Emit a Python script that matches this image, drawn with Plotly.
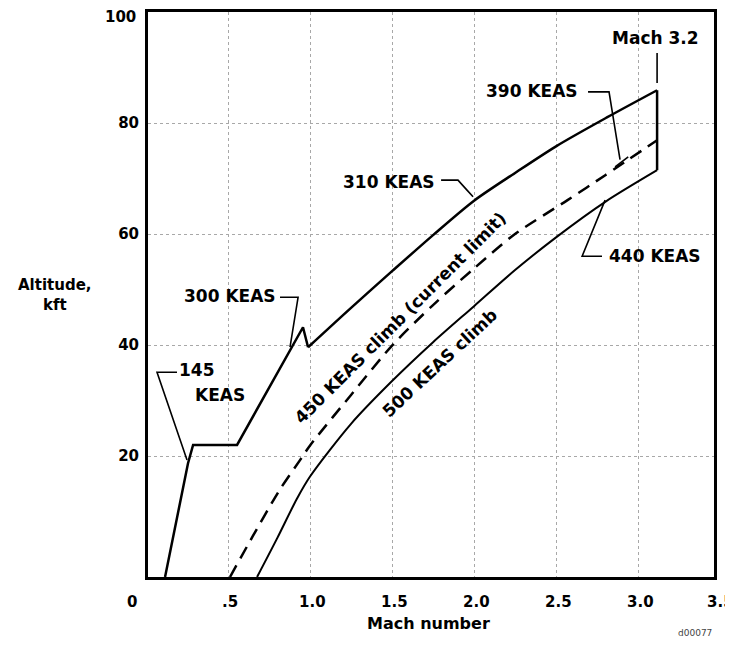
import plotly.graph_objects as go

# ---------------- data ----------------
# Upper boundary, low-speed kinked part (145 / 300 KEAS)
upper_low_mach = [0.116, 0.256, 0.287, 0.555, 0.957, 0.988]
upper_low_alt = [-1.8, 18.7, 22.0, 22.0, 43.2, 39.6]
# Upper boundary, smooth part (310 / 390 KEAS)
upper_mach = [0.988, 1.25, 1.5, 1.75, 2.0, 2.25, 2.5, 2.81, 3.116]
upper_alt = [39.6, 46.7, 53.3, 59.8, 66.0, 71.0, 75.8, 81.0, 85.9]
# 450 KEAS climb (current limit) - dashed
climb450_mach = [0.512, 0.65, 0.817, 0.94, 1.0, 1.25, 1.5, 1.75, 2.0, 2.25, 2.57, 2.8, 3.116]
climb450_alt = [-1.8, 5.5, 14.0, 19.3, 21.9, 31.0, 39.9, 47.2, 53.8, 60.0, 66.1, 70.6, 76.9]
# 500 KEAS climb / 440 KEAS - lower boundary
climb500_mach = [0.677, 0.8, 0.92, 1.0, 1.25, 1.5, 1.75, 2.0, 2.25, 2.5, 2.8, 3.116]
climb500_alt = [-1.8, 5.2, 12.3, 16.3, 25.8, 33.5, 40.5, 47.0, 53.5, 59.4, 65.8, 71.5]
# Mach 3.2 limit
mach_limit = 3.116

x_tick_vals = [0.0, 0.5, 1.0, 1.5, 2.0, 2.5, 3.0, 3.5]
x_tick_text = ["0", ".5", "1.0", "1.5", "2.0", "2.5", "3.0", "3.5"]
y_tick_vals = [20, 40, 60, 80, 100]
y_tick_text = ["20", "40", "60", "80", "100"]

# leader lines (mach list, alt list)
leader_145 = ([0.189, 0.067, 0.25], [35.1, 35.1, 19.3])
leader_300 = ([0.817, 0.927, 0.878], [48.6, 48.6, 39.6])
leader_310 = ([1.799, 1.902, 1.957, 1.994], [69.7, 69.7, 67.9, 66.7])
leader_390 = ([2.695, 2.823, 2.89], [85.6, 85.6, 73.4])
leader_390_tick = ([2.86, 2.94], [72.1, 73.9])
leader_440 = ([2.78, 2.659, 2.799], [56.0, 56.0, 66.1])
leader_m32 = ([3.116, 3.116], [92.6, 87.2])

X_RANGE = [0.012, 3.463]
Y_RANGE = [-1.8, 100]
FONT = "DejaVu Sans"

fig = go.Figure()

def line(x, y, width=2.5, dash=None, shape="linear"):
    fig.add_trace(go.Scatter(x=x, y=y, mode="lines", showlegend=False, hoverinfo="skip",
                             line=dict(color="black", width=width, dash=dash, shape=shape,
                                       smoothing=0.8)))

line(upper_low_mach, upper_low_alt, 2.5)
line(upper_mach, upper_alt, 2.5, shape="spline")
line(climb450_mach, climb450_alt, 2.5, dash="13px,8px", shape="spline")
line(climb500_mach, climb500_alt, 2.0, shape="spline")
line([mach_limit, mach_limit], [upper_alt[-1], climb500_alt[-1]], 2.5)

for ld in [leader_145, leader_300, leader_310, leader_390, leader_390_tick, leader_440, leader_m32]:
    line(ld[0], ld[1], 1.6)

ann = []
def txt(x, y, s, xanchor="center", size=17, angle=0, yanchor="middle"):
    ann.append(dict(x=x, y=y, xref="x", yref="y", text=s, showarrow=False,
                    xanchor=xanchor, yanchor=yanchor, textangle=angle,
                    font=dict(family=FONT, size=size, color="black", weight="bold")))

txt(3.104, 95.3, "Mach 3.2")
txt(2.643, 85.8, "390 KEAS", xanchor="right")
txt(1.774, 69.4, "310 KEAS", xanchor="right")
txt(0.805, 48.8, "300 KEAS", xanchor="right")
txt(0.19, 35.5, "145", xanchor="left")
txt(0.285, 31.0, "KEAS", xanchor="left")
txt(2.81, 56.0, "440 KEAS", xanchor="left")
txt(1.549, 44.9, "450 KEAS climb (current limit)", angle=-45)
txt(1.79, 36.8, "500 KEAS climb", angle=-43)

TICK_FONT = dict(family=FONT, size=15, color="black", weight="bold")
span = X_RANGE[1] - X_RANGE[0]
for v, t in zip(x_tick_vals, x_tick_text):
    shift = -14 if v == 0 else (0 if v == 3.5 else 2)
    ann.append(dict(x=(v - X_RANGE[0]) / span, y=0, xref="paper", yref="paper", text=t,
                    showarrow=False, xanchor="center", yanchor="top", yshift=-14, xshift=shift,
                    font=TICK_FONT))

# top y tick label (sits on the frame edge, drawn as annotation so it is not dropped)
ann.append(dict(x=0, y=1, xref="paper", yref="paper", text=y_tick_text[-1], showarrow=False,
                xanchor="right", yanchor="middle", xshift=-10, yshift=-5, font=TICK_FONT))

ann.append(dict(x=0.495, y=0, xref="paper", yref="paper", text="Mach number", showarrow=False,
                xanchor="center", yanchor="top", yshift=-35,
                font=dict(family=FONT, size=16, color="black", weight="bold")))
ann.append(dict(x=-0.164, y=0.5, xref="paper", yref="paper", text="Altitude,<br>kft",
                showarrow=False, xanchor="center", yanchor="middle",
                font=dict(family=FONT, size=15, color="black", weight="bold")))
ann.append(dict(x=1.0, y=0, xref="paper", yref="paper", text="d00077", showarrow=False,
                xanchor="right", yanchor="top", yshift=-49,
                font=dict(family=FONT, size=9, color="#444")))

# page body has an 8px margin: figure is shrunk/shifted to keep the plot where the reference has it
fig.update_layout(
    width=725, height=637,
    margin=dict(l=140, r=19, t=4, b=68, autoexpand=False),
    plot_bgcolor="white", paper_bgcolor="white",
    annotations=ann,
    xaxis=dict(range=X_RANGE, tickvals=[0.5, 1.0, 1.5, 2.0, 2.5, 3.0], automargin=False,
               showticklabels=False, ticks="", showgrid=True, gridcolor="#a8a8a8",
               gridwidth=1, griddash="dot", zeroline=False, showline=True,
               linecolor="black", linewidth=3, mirror=True),
    yaxis=dict(range=Y_RANGE, tickvals=y_tick_vals[:-1], ticktext=y_tick_text[:-1],
               automargin=False,
               ticks="", showgrid=True, gridcolor="#a8a8a8", gridwidth=1, griddash="dot",
               zeroline=False, showline=True, linecolor="black", linewidth=3, mirror=True,
               ticklabelstandoff=3, tickfont=TICK_FONT),
)

fig.write_html("out.html")
